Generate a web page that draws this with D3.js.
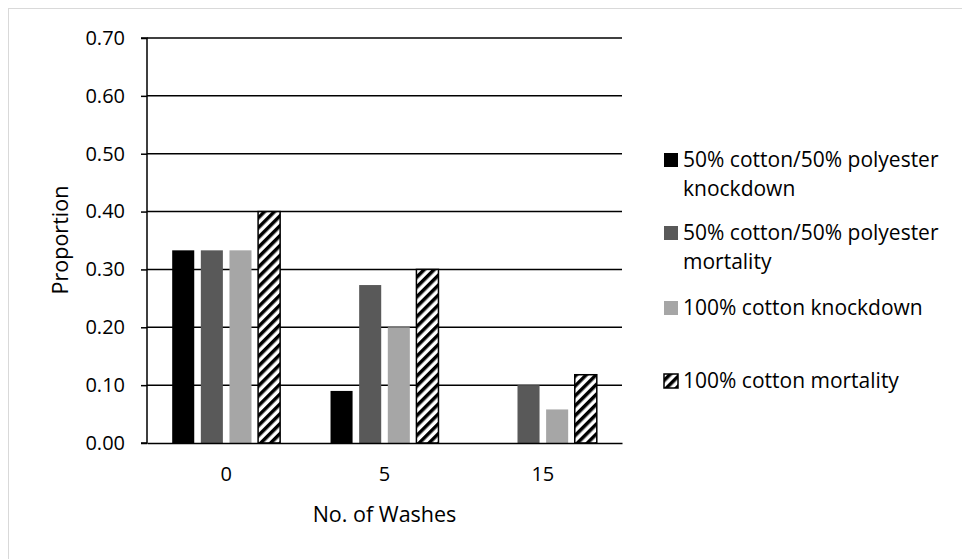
<!DOCTYPE html>
<html lang="en">
<head>
  <meta charset="UTF-8">
  <title>Proportion by number of washes</title>
  <script src="https://d3js.org/d3.v7.min.js"></script>
  <style>
    body { margin: 0; background: #fff; }
    svg text { font-family: "Open Sans", sans-serif; fill: #000; }
    .tick text { font-size: 20px; }
    .label { font-size: 21.5px; }
    .legend text { font-size: 21px; }
  </style>
</head>
<body>
  <svg width="962" height="559"></svg>

  <script>
    // data
    const washes = ["0", "5", "15"];
    const seriesNames = [
      "50% cotton/50% polyester knockdown",
      "50% cotton/50% polyester mortality",
      "100% cotton knockdown",
      "100% cotton mortality"
    ];
    const blendKnockdown = [0.333, 0.09, 0];
    const blendMortality = [0.333, 0.273, 0.10];
    const cottonKnockdown = [0.333, 0.20, 0.058];
    const cottonMortality = [0.40, 0.30, 0.118];
    const yTicks = [0, 0.1, 0.2, 0.3, 0.4, 0.5, 0.6, 0.7];
    const legendLines = [
      ["50% cotton/50% polyester", "knockdown"],
      ["50% cotton/50% polyester", "mortality"],
      ["100% cotton knockdown"],
      ["100% cotton mortality"]
    ];

    const allValues = [blendKnockdown, blendMortality, cottonKnockdown, cottonMortality];
    const fills = ["#000000", "#595959", "#a6a6a6", "url(#hatch)"];

    const svg = d3.select("svg");

    // outer frame
    svg.append("rect")
      .attr("x", 8.5).attr("y", 8.5)
      .attr("width", 970).attr("height", 570)
      .attr("fill", "none").attr("stroke", "#d9d9d9");

    const defs = svg.append("defs");
    const pat = defs.append("pattern")
      .attr("id", "hatch")
      .attr("patternUnits", "userSpaceOnUse")
      .attr("width", 7).attr("height", 7)
      .attr("patternTransform", "rotate(45)");
    pat.append("rect").attr("width", 7).attr("height", 7).attr("fill", "#fff");
    pat.append("rect").attr("width", 3.5).attr("height", 7).attr("fill", "#000");

    const plot = {left: 147, right: 622, top: 38, bottom: 443};

    const x0 = d3.scaleBand()
      .domain(washes)
      .range([plot.left, plot.right])
      .paddingInner(0).paddingOuter(0);

    const x1 = d3.scaleBand()
      .domain(d3.range(seriesNames.length))
      .range([0, x0.bandwidth()])
      .paddingInner(0.23)
      .paddingOuter(0.88);

    const y = d3.scaleLinear()
      .domain([0, 0.7])
      .range([plot.bottom, plot.top]);

    // gridlines
    svg.append("g")
      .selectAll("line")
      .data(yTicks.slice(1))
      .join("line")
      .attr("x1", plot.left).attr("x2", plot.right)
      .attr("y1", d => y(d)).attr("y2", d => y(d))
      .attr("stroke", "#000").attr("stroke-width", 1.5);

    // bars
    const groups = svg.append("g")
      .selectAll("g")
      .data(washes)
      .join("g")
      .attr("transform", d => `translate(${x0(d)},0)`);

    groups.selectAll("rect")
      .data((d, i) => allValues.map((vals, s) => ({s, v: vals[i]})))
      .join("rect")
      .filter(d => d.v > 0)
      .attr("x", d => x1(d.s))
      .attr("width", x1.bandwidth())
      .attr("y", d => y(d.v))
      .attr("height", d => y(0) - y(d.v))
      .attr("fill", d => fills[d.s])
      .attr("stroke", d => d.s === 3 ? "#000" : "none")
      .attr("stroke-width", 1.5);

    // y axis
    const yAxis = svg.append("g")
      .attr("transform", `translate(${plot.left},0)`)
      .call(d3.axisLeft(y).tickValues(yTicks).tickFormat(d3.format(".2f")).tickSize(6).tickPadding(16));
    yAxis.selectAll("path, line").attr("stroke", "#000").attr("stroke-width", 1.5);
    yAxis.select(".domain").attr("d", `M-6,${y(0.7)}H0V${y(0)}H-6`);

    // x axis
    const xAxis = svg.append("g")
      .attr("transform", `translate(0,${plot.bottom})`)
      .call(d3.axisBottom(x0).tickSize(0).tickPadding(24));
    xAxis.select(".domain").attr("stroke", "#000").attr("stroke-width", 1.5);

    // axis titles
    svg.append("text")
      .attr("class", "label")
      .attr("x", (plot.left + plot.right) / 2)
      .attr("y", 522)
      .attr("text-anchor", "middle")
      .text("No. of Washes");

    svg.append("text")
      .attr("class", "label")
      .attr("transform", "translate(68,240) rotate(-90)")
      .attr("text-anchor", "middle")
      .text("Proportion");

    // legend
    const legendY = [167, 240, 315, 388];
    const legend = svg.append("g").attr("class", "legend");
    seriesNames.forEach((name, i) => {
      const g = legend.append("g").attr("transform", `translate(664,${legendY[i]})`);
      g.append("rect")
        .attr("x", 0).attr("y", -14)
        .attr("width", 14).attr("height", 14)
        .attr("fill", fills[i])
        .attr("stroke", i === 3 ? "#000" : "none")
        .attr("stroke-width", 1.5);
      const t = g.append("text").attr("x", 19);
      legendLines[i].forEach((line, k) => {
        t.append("tspan").attr("x", 19).attr("dy", k === 0 ? 0 : 29).text(line);
      });
    });
  </script>
</body>
</html>
